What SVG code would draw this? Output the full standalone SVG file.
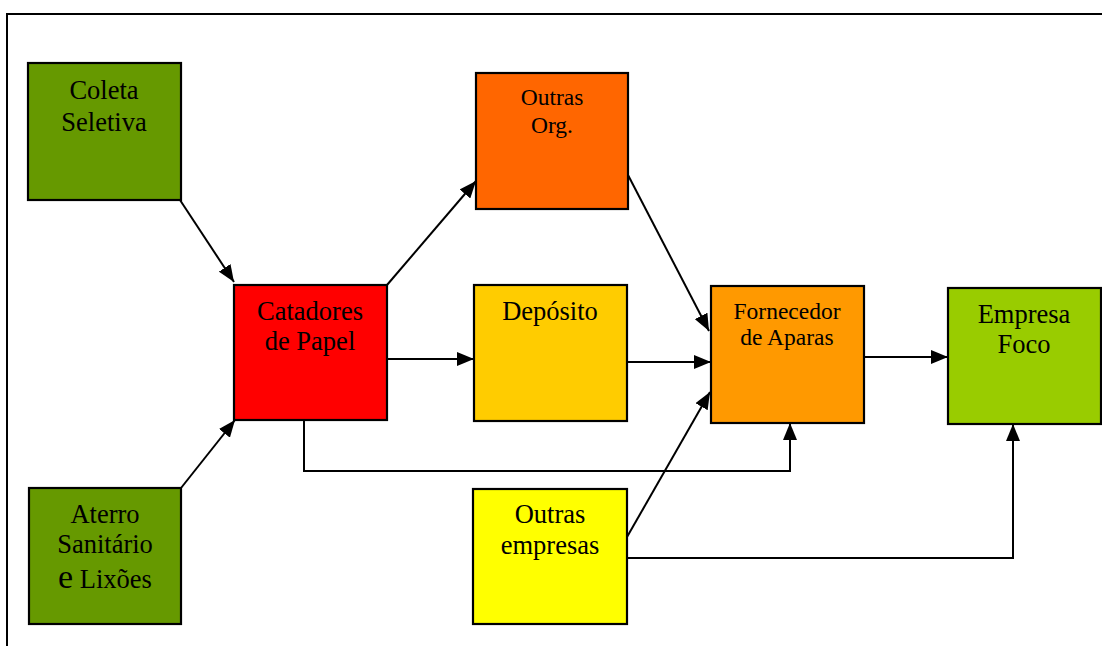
<svg xmlns="http://www.w3.org/2000/svg" width="1102" height="646" viewBox="0 0 1102 646">
<defs>
<marker id="arr" markerWidth="17" markerHeight="14" refX="17" refY="7" orient="auto" markerUnits="userSpaceOnUse">
<path d="M0,0 L17,7 L0,14 z" fill="#000"/>
</marker>
<style>
.box{stroke:#000;stroke-width:2.2}
.t{font-family:"Liberation Serif","Times New Roman",serif;font-size:26.5px;text-anchor:middle;fill:#000}
.c{fill:none;stroke:#000;stroke-width:2}
</style>
</defs>
<rect width="1102" height="646" fill="#fff"/>
<path d="M7,646 L7,14 L1102,14" fill="none" stroke="#000" stroke-width="2"/>
<g id="connectors">
<path class="c" d="M180,200 L234,282" marker-end="url(#arr)"/>
<path class="c" d="M181,488 L235,420" marker-end="url(#arr)"/>
<path class="c" d="M387,285 L476,181" marker-end="url(#arr)"/>
<path class="c" d="M387,359 L474,359" marker-end="url(#arr)"/>
<path class="c" d="M628,175 L709,331" marker-end="url(#arr)"/>
<path class="c" d="M627,362 L711,362" marker-end="url(#arr)"/>
<path class="c" d="M627,537 L710,392" marker-end="url(#arr)"/>
<path class="c" d="M304,421 L304,471 L790,471 L790,423" marker-end="url(#arr)"/>
<path class="c" d="M627,558 L1013,558 L1013,424" marker-end="url(#arr)"/>
<path class="c" d="M864,357 L948,357" marker-end="url(#arr)"/>
</g>
<g id="coleta">
<rect class="box" x="28" y="63" width="153" height="137" fill="#669900"/>
<text class="t" x="104" y="99">Coleta</text>
<text class="t" x="104" y="131">Seletiva</text>
</g>
<g id="aterro">
<rect class="box" x="29" y="488" width="152" height="136" fill="#669900"/>
<text class="t" x="105" y="523">Aterro</text>
<text class="t" x="105" y="553">Sanitário</text>
<text class="t" x="105" y="588"><tspan font-size="34">e</tspan> Lixões</text>
</g>
<g id="catadores">
<rect class="box" x="234" y="285" width="153" height="135" fill="#FF0000"/>
<text class="t" x="310" y="320">Catadores</text>
<text class="t" x="310" y="350">de Papel</text>
</g>
<g id="outras-org">
<rect class="box" x="476" y="73" width="152" height="136" fill="#FF6600"/>
<text class="t" x="552" y="105" style="font-size:23.5px">Outras</text>
<text class="t" x="552" y="133" style="font-size:23.5px">Org.</text>
</g>
<g id="deposito">
<rect class="box" x="474" y="285" width="153" height="136" fill="#FFCC00"/>
<text class="t" x="550" y="320">Depósito</text>
</g>
<g id="outras-empresas">
<rect class="box" x="473" y="489" width="154" height="135" fill="#FFFF00"/>
<text class="t" x="550" y="523">Outras</text>
<text class="t" x="550" y="554">empresas</text>
</g>
<g id="fornecedor">
<rect class="box" x="711" y="286" width="153" height="137" fill="#FF9900"/>
<text class="t" x="787" y="319" style="font-size:23.5px">Fornecedor</text>
<text class="t" x="787" y="345" style="font-size:23.5px">de Aparas</text>
</g>
<g id="empresa-foco">
<rect class="box" x="948" y="288" width="153" height="136" fill="#99CC00"/>
<text class="t" x="1024" y="323">Empresa</text>
<text class="t" x="1024" y="353">Foco</text>
</g>
</svg>
